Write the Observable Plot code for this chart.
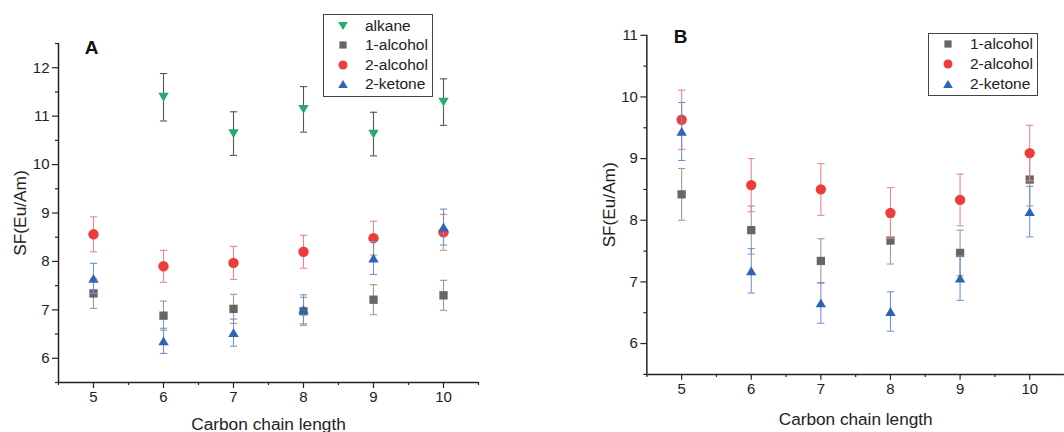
<!DOCTYPE html>
<html>
<head>
<meta charset="utf-8">
<script src="https://cdn.jsdelivr.net/npm/d3@7"></script>
<script src="https://cdn.jsdelivr.net/npm/@observablehq/plot@0.6"></script>
<style>
  html, body { margin: 0; padding: 0; background: #fff; }
  body { width: 1064px; height: 432px; position: relative; overflow: hidden; font-family: Arial, "Liberation Sans", sans-serif; }
  .panel { position: absolute; top: 0; }
  .legend { position: absolute; border: 1px solid #444; background: #fff; font-size: 15.5px; color: #222; box-sizing: border-box; }
  .legend .row { position: absolute; left: 0; height: 20px; line-height: 20px; white-space: nowrap; }
  .legend .row svg { position: absolute; top: 5px; }
  .legend .row span { position: absolute; }
</style>
</head>
<body>
<div id="panelA" class="panel" style="left:0px"></div>
<div id="panelB" class="panel" style="left:530px"></div>
<div id="legendA" class="legend" style="left:323px; top:14px; width:110px; height:83px;"></div>
<div id="legendB" class="legend" style="left:928px; top:33px; width:110px; height:63px;"></div>
<script>
// ---------- data ----------
const chainLength = [5, 6, 7, 8, 9, 10];
const xTicks = [5, 6, 7, 8, 9, 10];

// Panel A
const alkaneA      = [null, 11.39, 10.64, 11.14, 10.63, 11.29];
const alkaneAErr   = [null, 0.49, 0.45, 0.47, 0.45, 0.48];
const alcohol1A    = [7.34, 6.88, 7.02, 6.97, 7.21, 7.30];
const alcohol1AErr = [0.31, 0.30, 0.30, 0.29, 0.31, 0.31];
const alcohol2A    = [8.56, 7.90, 7.97, 8.20, 8.48, 8.60];
const alcohol2AErr = [0.36, 0.33, 0.34, 0.34, 0.35, 0.37];
const ketoneA      = [7.65, 6.36, 6.53, 7.01, 8.07, 8.71];
const ketoneAErr   = [0.31, 0.26, 0.28, 0.30, 0.34, 0.37];
const yTicksA = [6, 7, 8, 9, 10, 11, 12];

// Panel B
const alcohol1B    = [8.42, 7.84, 7.34, 7.67, 7.47, 8.66];
const alcohol1BErr = [0.42, 0.39, 0.36, 0.38, 0.37, 0.43];
const alcohol2B    = [9.63, 8.57, 8.50, 8.12, 8.33, 9.09];
const alcohol2BErr = [0.48, 0.43, 0.42, 0.41, 0.42, 0.45];
const ketoneB      = [9.44, 7.18, 6.66, 6.52, 7.06, 8.14];
const ketoneBErr   = [0.47, 0.36, 0.33, 0.32, 0.36, 0.41];
const yTicksB = [6, 7, 8, 9, 10, 11];

const seriesNames = ["alkane", "1-alcohol", "2-alcohol", "2-ketone"];
const colors = { "alkane": "#22ad6b", "1-alcohol": "#666666", "2-alcohol": "#ee3b3b", "2-ketone": "#2f63b8" };
const barColors = { "alkane": "#555555", "1-alcohol": "#9a9a9a", "2-alcohol": "#f08585", "2-ketone": "#6f94d2" };

// ---------- symbols ----------
const triUp = { draw(ctx, size) { const r = Math.sqrt(size / Math.PI); ctx.moveTo(0, -0.85 * r); ctx.lineTo(r, 0.85 * r); ctx.lineTo(-r, 0.85 * r); ctx.closePath(); } };
const triDown = { draw(ctx, size) { const r = Math.sqrt(size / Math.PI); ctx.moveTo(0, 0.85 * r); ctx.lineTo(r, -0.85 * r); ctx.lineTo(-r, -0.85 * r); ctx.closePath(); } };
const square = { draw(ctx, size) { const r = Math.sqrt(size / Math.PI) * 0.8; ctx.moveTo(-r, -r); ctx.lineTo(r, -r); ctx.lineTo(r, r); ctx.lineTo(-r, r); ctx.closePath(); } };
const circle = { draw(ctx, size) { const r = Math.sqrt(size / Math.PI); ctx.moveTo(r, 0); ctx.arc(0, 0, r, 0, 2 * Math.PI); } };
const cap = { draw(ctx, size) { const r = Math.sqrt(size / Math.PI); ctx.moveTo(-r, 0); ctx.lineTo(r, 0); } };
const symbols = { "alkane": triDown, "1-alcohol": square, "2-alcohol": circle, "2-ketone": triUp };

function rowsOf(vals, errs) {
  return chainLength.map((x, i) => ({ x, v: vals[i], lo: vals[i] == null ? null : vals[i] - errs[i], hi: vals[i] == null ? null : vals[i] + errs[i] }))
    .filter(d => d.v != null);
}

function seriesMarks(name, rows) {
  return [
    Plot.ruleX(rows, { x: "x", y1: "lo", y2: "hi", stroke: barColors[name], strokeWidth: 1.1 }),
    Plot.dot(rows, { x: "x", y: "lo", symbol: cap, r: 3.6, stroke: barColors[name], fill: "none", strokeWidth: 1.1 }),
    Plot.dot(rows, { x: "x", y: "hi", symbol: cap, r: 3.6, stroke: barColors[name], fill: "none", strokeWidth: 1.1 }),
    Plot.dot(rows, { x: "x", y: "v", symbol: symbols[name], r: 5.2, fill: colors[name], stroke: "none" })
  ];
}

function halves(a, b) { const out = []; for (let v = a; v <= b + 1e-9; v += 1) out.push(v); return out; }

function panel(o) {
  const ink = "#222";
  return Plot.plot({
    width: o.width, height: 432,
    marginLeft: o.marginLeft, marginRight: o.marginRight, marginTop: o.marginTop, marginBottom: o.marginBottom,
    style: { fontFamily: "Arial, 'Liberation Sans', sans-serif", fontSize: "15px", color: ink, background: "transparent", overflow: "visible" },
    x: { domain: [4.5, 10.5] },
    y: { domain: o.ydomain },
    marks: [
      Plot.axisX(xTicks, { tickSize: 6, tickPadding: 3, fontSize: 15, tickFormat: "d", label: null, stroke: ink, strokeWidth: 1.2 }),
      Plot.axisX(halves(4.5, 10.5), { tickSize: 3, tickFormat: () => "", label: null, stroke: ink, strokeWidth: 1.2 }),
      Plot.axisY(o.yTicks, { tickSize: 6, tickPadding: 3, fontSize: 15, tickFormat: "d", label: null, stroke: ink, strokeWidth: 1.2 }),
      Plot.axisY(halves(5.5, o.ydomain[1]), { tickSize: 3, tickFormat: () => "", label: null, stroke: ink, strokeWidth: 1.2 }),
      Plot.ruleX([4.5], { y1: o.ydomain[0], y2: o.ydomain[1], stroke: ink, strokeWidth: 1.5 }),
      Plot.ruleY([o.ydomain[0]], { x1: 4.5, x2: 10.5, stroke: ink, strokeWidth: 1.5 }),
      Plot.text(["Carbon chain length"], { text: d => d, frameAnchor: "bottom", dy: o.xLabelDy, fontSize: 17.3, fill: ink, lineAnchor: "middle" }),
      Plot.text(["SF(Eu/Am)"], { text: d => d, frameAnchor: "left", dx: -38, rotate: -90, fontSize: 17.3, fill: ink, textAnchor: "middle", lineAnchor: "middle" }),
      Plot.text([o.letter], { text: d => d, frameAnchor: "top-left", dx: o.letterDx, dy: o.letterDy, fontSize: 19, fontWeight: "bold", fill: "#111", textAnchor: "middle", lineAnchor: "bottom" }),
      ...o.series.flatMap(([name, rows]) => seriesMarks(name, rows))
    ]
  });
}

document.getElementById("panelA").append(panel({
  width: 530, marginLeft: 58, marginRight: 52, marginTop: 43, marginBottom: 50,
  ydomain: [5.5, 12.5], yTicks: yTicksA, letter: "A", letterDx: 33, letterDy: 10, xLabelDy: 42,
  series: [
    ["alkane", rowsOf(alkaneA, alkaneAErr)],
    ["1-alcohol", rowsOf(alcohol1A, alcohol1AErr)],
    ["2-alcohol", rowsOf(alcohol2A, alcohol2AErr)],
    ["2-ketone", rowsOf(ketoneA, ketoneAErr)]
  ]
}));

document.getElementById("panelB").append(panel({
  width: 537, marginLeft: 117, marginRight: 0, marginTop: 35, marginBottom: 56,
  ydomain: [5.5, 11], yTicks: yTicksB, letter: "B", letterDx: 34, letterDy: 8, xLabelDy: 45,
  series: [
    ["1-alcohol", rowsOf(alcohol1B, alcohol1BErr)],
    ["2-alcohol", rowsOf(alcohol2B, alcohol2BErr)],
    ["2-ketone", rowsOf(ketoneB, ketoneBErr)]
  ]
}));

// ---------- legends ----------
const legendPaths = {
  "alkane": "M0,4.1L4.8,-4.1L-4.8,-4.1Z",
  "1-alcohol": "M-3.6,-3.6L3.6,-3.6L3.6,3.6L-3.6,3.6Z",
  "2-alcohol": "M4.5,0A4.5,4.5,0,1,1,-4.5,0A4.5,4.5,0,1,1,4.5,0Z",
  "2-ketone": "M0,-4.1L4.8,4.1L-4.8,4.1Z"
};
function buildLegend(id, names, rowTops) {
  const el = document.getElementById(id);
  names.forEach((n, i) => {
    const row = document.createElement("div");
    row.className = "row";
    row.style.top = rowTops[i] + "px";
    row.style.width = "100%";
    row.innerHTML = `<svg width="12" height="10" viewBox="-6 -5 12 10" style="left:13px"><path d="${legendPaths[n]}" fill="${colors[n]}"/></svg><span style="left:41px">${n}</span>`;
    el.append(row);
  });
}
buildLegend("legendA", seriesNames, [1, 20, 39.5, 59]);
buildLegend("legendB", ["1-alcohol", "2-alcohol", "2-ketone"], [0, 20, 40]);
</script>
</body>
</html>
